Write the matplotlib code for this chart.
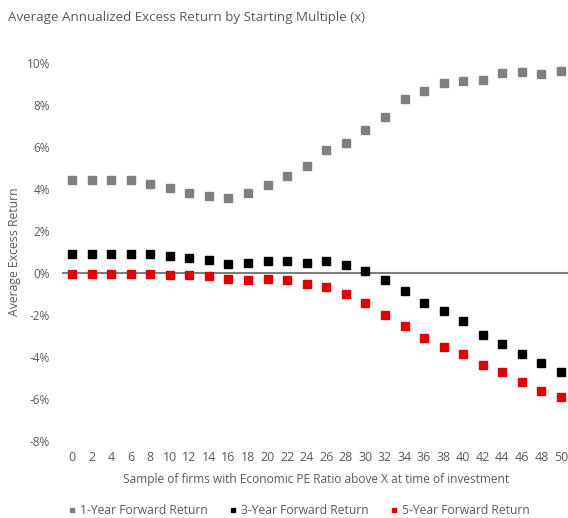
import numpy as np
import matplotlib.pyplot as plt

# data (percent)
pe_multiple = [0, 2, 4, 6, 8, 10, 12, 14, 16, 18, 20, 22, 24, 26, 28, 30, 32, 34, 36, 38, 40, 42, 44, 46, 48, 50]
ret_1yr = [4.4, 4.4, 4.4, 4.4, 4.25, 4.05, 3.8, 3.65, 3.55, 3.8, 4.2, 4.6, 5.1, 5.85, 6.2, 6.8,
           7.4, 8.25, 8.65, 9.05, 9.1, 9.15, 9.5, 9.55, 9.45, 9.6]
ret_3yr = [0.9, 0.9, 0.9, 0.9, 0.9, 0.8, 0.72, 0.6, 0.43, 0.5, 0.55, 0.55, 0.5, 0.56, 0.4, 0.1,
           -0.32, -0.83, -1.4, -1.82, -2.26, -2.92, -3.38, -3.86, -4.26, -4.72]
ret_5yr = [-0.03, -0.03, -0.03, -0.03, -0.03, -0.08, -0.1, -0.14, -0.27, -0.35, -0.27, -0.33,
           -0.54, -0.67, -1.0, -1.4, -1.99, -2.52, -3.09, -3.49, -3.86, -4.37, -4.72, -5.18, -5.58, -5.87]
series_names = ['1-Year Forward Return', '3-Year Forward Return', '5-Year Forward Return']
series_colors = ['#7f7f7f', '#000000', '#e00000']
y_ticks = [10, 8, 6, 4, 2, 0, -2, -4, -6, -8]

plt.rcParams['font.family'] = ['Open Sans', 'DejaVu Sans']
text_color = '#595959'

fig = plt.figure(figsize=(5.68, 5.18), dpi=100)
ax = fig.add_axes([62.2 / 568, 1 - 441.5 / 518, (570.8 - 62.2) / 568, (441.5 - 62.5) / 518])

# zero line
ax.axhline(0, color='#808080', linewidth=1.5, zorder=1)

for vals, name, col in zip([ret_1yr, ret_3yr, ret_5yr], series_names, series_colors):
    ax.plot(pe_multiple, vals, linestyle='none', marker='s', markersize=6.3,
            color=col, label=name, clip_on=False, zorder=3)

ax.set_xlim(-1, 51)
ax.set_ylim(-8, 10)
ax.set_xticks(pe_multiple)
ax.set_xticklabels([str(v) for v in pe_multiple], fontsize=9, color=text_color)
ax.set_yticks(y_ticks)
ax.set_yticklabels(['%d%%' % v for v in y_ticks], fontsize=8.5, color=text_color)
ax.tick_params(length=0)
ax.tick_params(axis='y', pad=8.6)
ax.tick_params(axis='x', pad=6.5)
for s in ax.spines.values():
    s.set_visible(False)

ax.set_xlabel('Sample of firms with Economic PE Ratio above X at time of investment',
              fontsize=8.6, color=text_color, labelpad=6.5)
ax.set_ylabel('Average Excess Return', fontsize=8.8, color=text_color)
ax.yaxis.set_label_coords((21 - 62.2) / 508.6, 0.5)

fig.text(8 / 568, 1 - 17 / 518, 'Average Annualized Excess Return by Starting Multiple (x)',
         fontsize=9.6, color=text_color, va='center', ha='left')

ax.legend(loc='center', bbox_to_anchor=(299 / 568, 1 - 511 / 518), bbox_transform=fig.transFigure,
          ncol=3, frameon=False, fontsize=8.7, labelcolor=text_color, markerscale=0.55,
          handlelength=0.6, handletextpad=0.4, columnspacing=1.75)

fig.savefig('out.png', dpi=100)
